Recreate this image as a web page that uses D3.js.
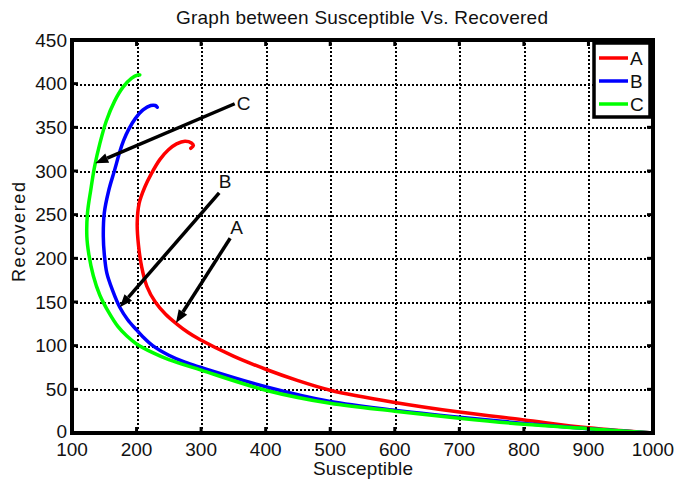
<!DOCTYPE html>
<html>
<head>
<meta charset="utf-8">
<script src="https://cdn.jsdelivr.net/npm/d3@7"></script>
<style>
  body { margin: 0; background: #fff; }
  text { font-family: "Liberation Sans", Arial, sans-serif; fill: #111; }
</style>
</head>
<body>
<svg id="chart"></svg>
<script>
// series data: [Susceptible, Recovered]
const seriesNames = ["A", "B", "C"];
const seriesColors = ["#ff0000", "#0000ff", "#00ff00"];

const curveA = [[1000,0],[900,6],[800,15],[700,24],[600,35],[500,49],[450,60],[400,73],[350,88],[298,107],[280,115],[262,125],[245,136],[229,150],[216,168],[208,190],[203,215],[201,240],[204,263],[213,282],[223,297],[236,313],[249,324],[262,331],[275,334],[285,332],[288,329],[284,326]];
const curveB = [[1000,0],[900,5],[800,11],[700,18],[600,26],[500,36],[400,53],[300,75],[275,81],[250,89],[225,100],[210,110],[200,118],[186,130],[174,144],[163,163],[154,183],[150,205],[148.5,225],[150,252],[157,278],[166,301],[174,322],[180,335],[188,348],[198,360],[210,370],[222,375],[229,375],[232,373]];
const curveC = [[1000,0],[900,5],[800,10],[700,17],[600,25],[500,34],[400,49],[300,72],[250,84],[225,92],[200,102],[185,111],[171,122],[157,138],[143,158],[133,180],[126,205],[123,225],[124,252],[129,278],[135,305],[143,331],[153,357],[166,380],[179,396],[192,406],[202,410],[205,410]];
const curves = [curveA, curveB, curveC];

// annotation arrows: label, tail, tip, label position
const arrowLabels = ["C", "B", "A"];
const arrowTails = [[352,377],[328,275],[345,223]];
const arrowTips = [[136,309],[174,144],[261,126]];
const arrowLabelPos = [[366,378],[337,288],[355,236]];

const xTicks = [100,200,300,400,500,600,700,800,900,1000];
const yTicks = [0,50,100,150,200,250,300,350,400,450];

const width = 675, height = 479;
const margin = { top: 40, right: 22, bottom: 46, left: 72 };

const svg = d3.select('#chart')
  .attr('width', width)
  .attr('height', height);

const x = d3.scaleLinear().domain([100, 1000]).range([margin.left, width - margin.right]);
const y = d3.scaleLinear().domain([0, 450]).range([height - margin.bottom, margin.top]);
const snap = v => Math.round(v) + 0.5;

// grid
svg.append('g')
  .selectAll('line')
  .data(xTicks.slice(1, -1))
  .join('line')
  .attr('x1', d => snap(x(d))).attr('x2', d => snap(x(d)))
  .attr('y1', y(0)).attr('y2', y(450))
  .attr('stroke', '#000')
  .attr('stroke-width', 2)
  .attr('stroke-dasharray', '2,2')
  .attr('shape-rendering', 'crispEdges');

svg.append('g')
  .selectAll('line')
  .data(yTicks.slice(1, -1))
  .join('line')
  .attr('y1', d => snap(y(d))).attr('y2', d => snap(y(d)))
  .attr('x1', x(100)).attr('x2', x(1000))
  .attr('stroke', '#000')
  .attr('stroke-width', 2)
  .attr('stroke-dasharray', '2,2')
  .attr('shape-rendering', 'crispEdges');

// curves
const line = d3.line()
  .x(d => x(d[0]))
  .y(d => y(d[1]))
  .curve(d3.curveCatmullRom.alpha(0.5));

svg.append('g')
  .selectAll('path')
  .data(curves)
  .join('path')
  .attr('d', line)
  .attr('fill', 'none')
  .attr('stroke', (d, i) => seriesColors[i])
  .attr('stroke-width', 3.5)
  .attr('stroke-linecap', 'round')
  .attr('stroke-linejoin', 'round');

// arrows
const arrows = svg.append('g');
arrowLabels.forEach((lab, i) => {
  const x0 = x(arrowTails[i][0]), y0 = y(arrowTails[i][1]);
  const x1 = x(arrowTips[i][0]), y1 = y(arrowTips[i][1]);
  const ang = Math.atan2(y1 - y0, x1 - x0);
  const hl = 13, hw = 5;
  const bx = x1 - hl * Math.cos(ang), by = y1 - hl * Math.sin(ang);
  arrows.append('line')
    .attr('x1', x0).attr('y1', y0)
    .attr('x2', bx).attr('y2', by)
    .attr('stroke', '#000')
    .attr('stroke-width', 3.5);
  arrows.append('polygon')
    .attr('points', [
      [x1, y1],
      [bx + hw * Math.sin(ang), by - hw * Math.cos(ang)],
      [bx - hw * Math.sin(ang), by + hw * Math.cos(ang)]
    ].map(p => p.join(',')).join(' '))
    .attr('fill', '#000');
  arrows.append('text')
    .attr('x', x(arrowLabelPos[i][0]))
    .attr('y', y(arrowLabelPos[i][1]))
    .attr('dy', '0.35em')
    .attr('text-anchor', 'middle')
    .attr('font-size', 19)
    .text(lab);
});

// axes box
const tickLen = 6;
const axisG = svg.append('g');
axisG.append('rect')
  .attr('x', x(100)).attr('y', y(450))
  .attr('width', x(1000) - x(100))
  .attr('height', y(0) - y(450))
  .attr('fill', 'none')
  .attr('stroke', '#000')
  .attr('stroke-width', 4);

xTicks.forEach(t => {
  axisG.append('line')
    .attr('x1', x(t)).attr('x2', x(t))
    .attr('y1', y(0)).attr('y2', y(0) - tickLen)
    .attr('stroke', '#000').attr('stroke-width', 3);
  axisG.append('line')
    .attr('x1', x(t)).attr('x2', x(t))
    .attr('y1', y(450)).attr('y2', y(450) + tickLen)
    .attr('stroke', '#000').attr('stroke-width', 3);
});
yTicks.forEach(t => {
  axisG.append('line')
    .attr('x1', x(100)).attr('x2', x(100) + tickLen)
    .attr('y1', y(t)).attr('y2', y(t))
    .attr('stroke', '#000').attr('stroke-width', 3);
  axisG.append('line')
    .attr('x1', x(1000)).attr('x2', x(1000) - tickLen)
    .attr('y1', y(t)).attr('y2', y(t))
    .attr('stroke', '#000').attr('stroke-width', 3);
});

// tick labels
svg.append('g')
  .selectAll('text')
  .data(xTicks)
  .join('text')
  .attr('x', d => x(d))
  .attr('y', 456)
  .attr('text-anchor', 'middle')
  .attr('font-size', 19)
  .text(d => d);

svg.append('g')
  .selectAll('text')
  .data(yTicks)
  .join('text')
  .attr('x', x(100) - 5)
  .attr('y', d => d === 0 ? y(d) - 2 : y(d))
  .attr('dy', '0.35em')
  .attr('text-anchor', 'end')
  .attr('font-size', 19)
  .text(d => d);

// titles
svg.append('text')
  .attr('x', 362)
  .attr('y', 24)
  .attr('text-anchor', 'middle')
  .attr('font-size', 19)
  .attr('textLength', 372)
  .text('Graph between Susceptible Vs. Recovered');

svg.append('text')
  .attr('x', 363)
  .attr('y', 475)
  .attr('text-anchor', 'middle')
  .attr('font-size', 19)
  .attr('textLength', 100)
  .text('Susceptible');

svg.append('text')
  .attr('transform', 'translate(25, 232) rotate(-90)')
  .attr('text-anchor', 'middle')
  .attr('font-size', 18)
  .attr('textLength', 100)
  .text('Recovered');

// legend
const legend = svg.append('g');
legend.append('rect')
  .attr('x', 594).attr('y', 43)
  .attr('width', 56).attr('height', 74)
  .attr('fill', '#fff')
  .attr('stroke', '#000')
  .attr('stroke-width', 3.5);
seriesNames.forEach((name, i) => {
  const ly = 58 + i * 23;
  legend.append('line')
    .attr('x1', 599).attr('x2', 628)
    .attr('y1', ly).attr('y2', ly)
    .attr('stroke', seriesColors[i])
    .attr('stroke-width', 3.5);
  legend.append('text')
    .attr('x', 630).attr('y', ly)
    .attr('dy', '0.35em')
    .attr('font-size', 19)
    .text(name);
});
</script>
</body>
</html>
